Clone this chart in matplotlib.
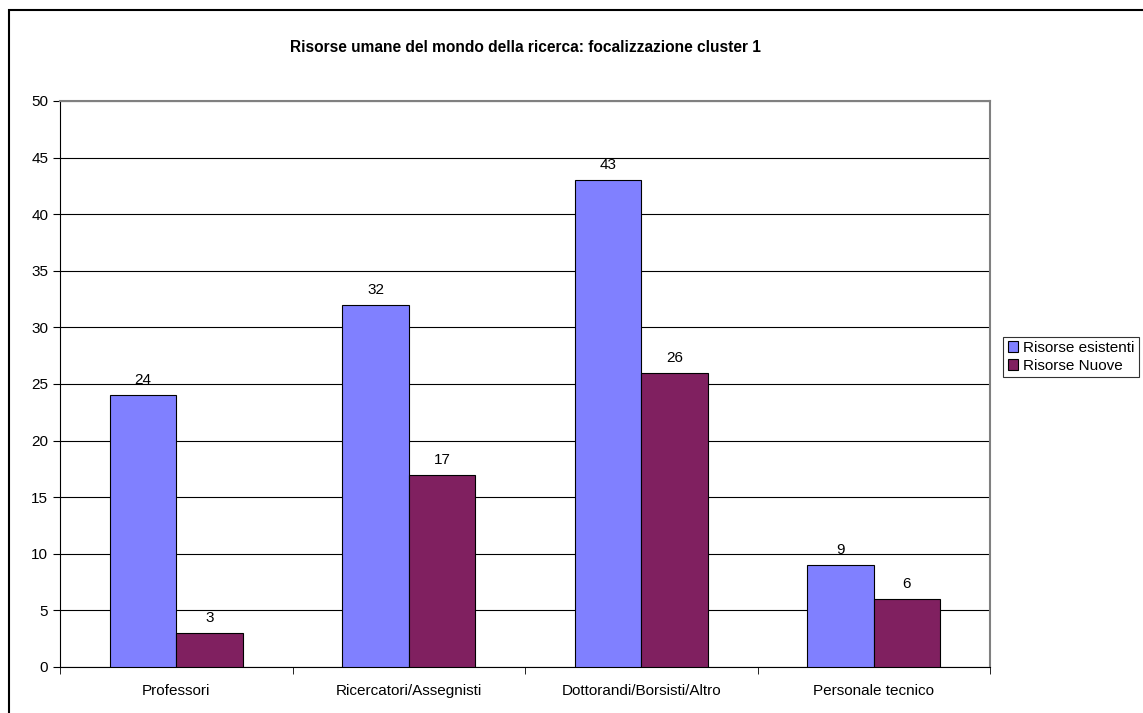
import matplotlib.pyplot as plt
import numpy as np
from matplotlib.patches import Rectangle

plt.rcParams['font.family'] = ['Liberation Sans', 'DejaVu Sans']

categorie = ['Professori', 'Ricercatori/Assegnisti', 'Dottorandi/Borsisti/Altro', 'Personale tecnico']
esistenti = [24, 32, 43, 9]
nuove = [3, 17, 26, 6]
serie = ['Risorse esistenti', 'Risorse Nuove']

fig = plt.figure(figsize=(11.43, 7.13), dpi=100)
ax = fig.add_axes([60/1143, 1 - 667/713, 930/1143, 566/713])

# bordo esterno della figura
fig.patches.append(Rectangle((9/1143, -0.1), 1.2, 1 - 10/713 + 0.1, transform=fig.transFigure,
                             fill=False, edgecolor='black', linewidth=1.5))

x = np.arange(len(categorie))
w = 1 / 3.5
b1 = ax.bar(x - w/2, esistenti, w, color='#8080FF', edgecolor='black', linewidth=0.8,
            label=serie[0], zorder=3)
b2 = ax.bar(x + w/2, nuove, w, color='#802060', edgecolor='black', linewidth=0.8,
            label=serie[1], zorder=3)

for bars, vals in [(b1, esistenti), (b2, nuove)]:
    for r, v in zip(bars, vals):
        ax.text(r.get_x() + r.get_width()/2, v + 0.7, str(v), ha='center', va='bottom', fontsize=11)

ax.set_xlim(-0.5, len(categorie) - 0.5)
ax.set_ylim(0, 50)
ax.set_yticks(np.arange(0, 51, 5))
ax.yaxis.grid(True, color='black', linewidth=0.8, zorder=0)
ax.set_axisbelow(True)

ax.set_xticks(x)
ax.set_xticklabels(categorie, fontsize=11)
ax.set_xticks(np.arange(-0.5, len(categorie)), minor=True)
ax.tick_params(axis='x', which='major', length=0, pad=12)
ax.tick_params(axis='x', which='minor', length=5, direction='out')
ax.tick_params(axis='y', length=5, direction='out', labelsize=11)

ax.spines['top'].set_color('gray')
ax.spines['right'].set_color('gray')
ax.spines['top'].set_linewidth(1.5)
ax.spines['right'].set_linewidth(1.5)

fig.text(525/1143, 1 - 47/713, 'Risorse umane del mondo della ricerca: focalizzazione cluster 1',
         ha='center', va='center', fontsize=11.2, fontweight='bold')

leg = fig.legend(loc='center left', bbox_to_anchor=(1003/1143, 1 - 357/713), fontsize=11,
                 fancybox=False, edgecolor='black', handlelength=0.7, handleheight=0.7,
                 handletextpad=0.3, borderpad=0.3, labelspacing=0.25, borderaxespad=0)
leg.get_frame().set_linewidth(0.8)

fig.savefig('out.png', dpi=100)
